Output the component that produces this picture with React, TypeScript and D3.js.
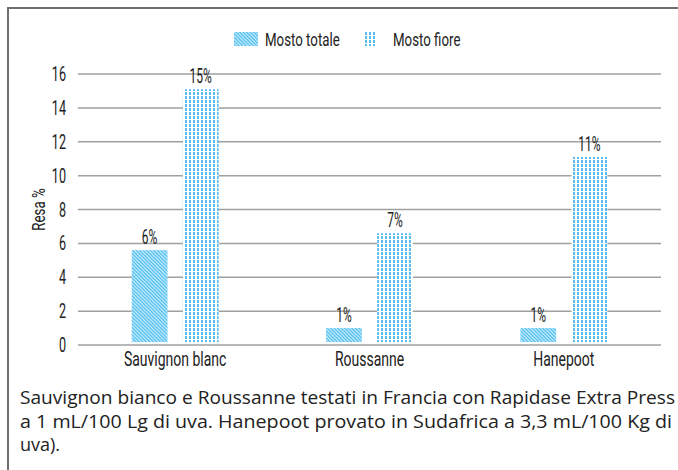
import React from 'react';
import * as d3 from 'd3';

const categories = ['Sauvignon blanc', 'Roussanne', 'Hanepoot'];
const seriesNames = ['Mosto totale', 'Mosto fiore'];
const mostoTotale = [5.6, 1.0, 1.0];
const mostoFiore = [15.1, 6.6, 11.1];
const totaleLabels = ['6%', '1%', '1%'];
const fioreLabels = ['15%', '7%', '11%'];
const yTicks = [0, 2, 4, 6, 8, 10, 12, 14, 16];
const caption = [
  'Sauvignon bianco e Roussanne testati in Francia con Rapidase Extra Press',
  'a 1 mL/100 Lg di uva. Hanepoot provato in Sudafrica a 3,3 mL/100 Kg di',
  'uva).',
];

const W = 678;
const H = 470;
const narrow = 'Roboto, "DejaVu Sans", sans-serif';
const plain = '"Open Sans", "Liberation Sans", sans-serif';

// condensed text: plain font squeezed horizontally
const NText = ({ x, y, anchor = 'start', size = 18, sx = 0.72, rotate = 0, children }: any) => (
  <text
    transform={`translate(${x},${y}) rotate(${rotate}) scale(${sx},1)`}
    textAnchor={anchor}
    fontFamily={narrow}
    fontSize={size}
    fill="#222"
  >
    {children}
  </text>
);

const App = () => {
  const x = d3.scaleBand().domain(categories).range([78, 661]).paddingInner(0).paddingOuter(0);
  const y = d3.scaleLinear().domain([0, 16]).range([345, 74]);
  const inner = d3.scaleBand().domain(seriesNames).range([-46, 46]).paddingInner(0.3).paddingOuter(0.05);

  const series = [
    { name: seriesNames[0], values: mostoTotale, labels: totaleLabels, fill: 'url(#hatch)' },
    { name: seriesNames[1], values: mostoFiore, labels: fioreLabels, fill: 'url(#dots)' },
  ];

  return (
    <svg width={W} height={H} style={{ position: 'fixed', left: 0, top: 0, background: '#fff' }}>
      <defs>
        <pattern id="hatch" width="2.5" height="2.5" patternUnits="userSpaceOnUse" patternTransform="rotate(-45)">
          <rect width="2.5" height="2.5" fill="#62c6f3" />
          <rect width="0.9" height="2.5" fill="#d4f0fc" />
        </pattern>
        <pattern id="dots" width="4" height="4" patternUnits="userSpaceOnUse">
          <rect width="4" height="4" fill="#fff" />
          <rect x="1" y="0" width="2" height="3" fill="#55bdef" />
        </pattern>
      </defs>

      {/* frame */}
      <path d={`M8,${H} L8,8 L${W},8`} fill="none" stroke="#6b7070" strokeWidth={2} />

      {/* legend */}
      <rect x={234} y={32} width={24} height={14} fill="url(#hatch)" />
      <NText x={265} y={46} size={19} sx={0.7}>{seriesNames[0]}</NText>
      <rect x={365} y={32} width={12} height={14} fill="url(#dots)" />
      <NText x={393} y={46} size={19} sx={0.7}>{seriesNames[1]}</NText>

      {/* grid */}
      {yTicks.map((t) => (
        <g key={t}>
          <line x1={78} x2={661} y1={y(t)} y2={y(t)} stroke="#a0a0a0" strokeWidth={1.5} />
          <NText x={66} y={y(t) + 7} anchor="end" size={21} sx={0.6}>{t}</NText>
        </g>
      ))}

      <NText x={45} y={y(8)} anchor="middle" size={19} sx={0.7} rotate={-90}>Resa %</NText>

      {/* bars */}
      {categories.map((c, i) => {
        const cx = (x(c) as number) + x.bandwidth() / 2;
        return (
          <g key={c}>
            {series.map((s) => {
              const bx = cx + (inner(s.name) as number);
              const top = y(s.values[i]);
              return (
                <g key={s.name}>
                  <rect x={bx} y={top} width={inner.bandwidth()} height={342 - top} fill={s.fill} />
                  <NText x={bx + inner.bandwidth() / 2} y={top - 6} anchor="middle" size={20} sx={0.6}>{s.labels[i]}</NText>
                </g>
              );
            })}
            <NText x={cx} y={366} anchor="middle" size={20} sx={0.7}>{c}</NText>
          </g>
        );
      })}

      {/* caption */}
      {caption.map((line, i) => (
        <text
          key={i}
          x={20}
          y={404 + i * 23.5}
          fontFamily={plain}
          fontSize={18}
          fill="#222"
          textLength={i === 0 ? 655 : i === 1 ? 652 : undefined}
          lengthAdjust="spacingAndGlyphs"
        >
          {line}
        </text>
      ))}
    </svg>
  );
};

export default App;
